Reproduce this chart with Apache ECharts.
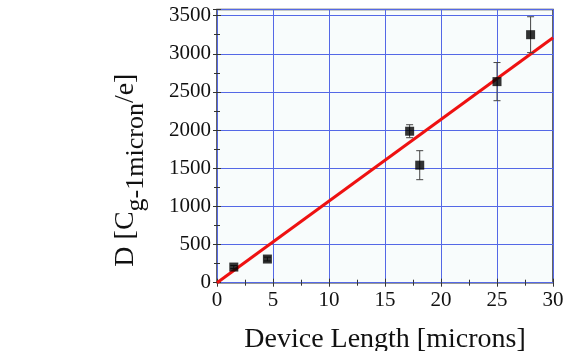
<!DOCTYPE html>
<html><head><meta charset="utf-8">
<script src="https://cdn.jsdelivr.net/npm/echarts@6/dist/echarts.min.js"></script>
<style>html,body{margin:0;padding:0;background:#fff}#c{width:565px;height:351px}</style>
</head><body><div id="c"></div>
<script>
var xVals = [1.5, 4.5, 17.2, 18.1, 25.0, 28.0];
var yVals = [205, 310, 1985, 1540, 2635, 3250];
var errVals = [20, 25, 85, 190, 250, 235];
var fitX = [0, 30];
var fitY = [0, 3210];
var xTicks = [0, 5, 10, 15, 20, 25, 30];
var yTicks = [0, 500, 1000, 1500, 2000, 2500, 3000, 3500];

var pts = xVals.map(function (x, i) { return [x, yVals[i]]; });
var errs = xVals.map(function (x, i) { return [x, yVals[i] - errVals[i], yVals[i] + errVals[i]]; });
var fit = fitX.map(function (x, i) { return [x, fitY[i]]; });

var font = 'Liberation Serif, Times New Roman, serif';
var chart = echarts.init(document.getElementById('c'));
var gridLine = { show: true, lineStyle: { color: '#5468e6', width: 1 } };
chart.setOption({
  animation: false,
  grid: { left: 217, right: 12, top: 9.5, bottom: 68.3, show: true, containLabel: false, outerBoundsMode: 'none',
    backgroundColor: '#f8fcfc', borderColor: '#333', borderWidth: 1.5 },
  xAxis: [{
    type: 'value', min: 0, max: 30, interval: 5,
    axisLine: { show: false },
    axisTick: { show: true, inside: true, length: 4, lineStyle: { color: '#333' } },
    minorTick: { show: true, splitNumber: 2, length: 3, lineStyle: { color: '#333' } },
    axisLabel: { color: '#111', fontFamily: font, fontSize: 21, margin: 7,
      formatter: function (v) { return xTicks.indexOf(v) >= 0 ? String(v) : ''; } },
    splitLine: gridLine,
    name: 'Device Length [microns]', nameLocation: 'middle', nameGap: 43,
    nameTextStyle: { color: '#111', fontFamily: font, fontSize: 28 }
  }, {
    type: 'value', min: 0, max: 30, interval: 5, position: 'top',
    axisLine: { show: false },
    axisTick: { show: true, inside: true, length: 4, lineStyle: { color: '#333' } },
    minorTick: { show: true, splitNumber: 2, length: 3, lineStyle: { color: '#333' } },
    axisLabel: { show: false }, splitLine: { show: false }
  }],
  yAxis: [{
    type: 'value', min: 0, max: 3580, interval: 500,
    axisLine: { show: false },
    axisTick: { show: true, inside: true, length: 4, lineStyle: { color: '#333' } },
    minorTick: { show: true, splitNumber: 2, length: 3, lineStyle: { color: '#333' } },
    axisLabel: { color: '#111', fontFamily: font, fontSize: 21, margin: 6, showMaxLabel: false,
      formatter: function (v) { return yTicks.indexOf(v) >= 0 ? String(v) : ''; } },
    splitLine: gridLine,
    name: '{n|D [C}{s|g-1micron}{n|/e]}', nameLocation: 'middle', nameGap: 76,
    nameTextStyle: { color: '#111', fontFamily: font, fontSize: 28, padding: [0, 48, 0, 0],
      rich: {
        n: { fontFamily: font, fontSize: 28, color: '#111', verticalAlign: 'top', lineHeight: 29 },
        s: { fontFamily: font, fontSize: 26, color: '#111', verticalAlign: 'top', lineHeight: 27, padding: [11, 0, 0, 0] }
      } }
  }, {
    type: 'value', min: 0, max: 3580, interval: 500, position: 'right',
    axisLine: { show: false },
    axisTick: { show: true, inside: true, length: 4, lineStyle: { color: '#333' } },
    minorTick: { show: true, splitNumber: 2, length: 3, lineStyle: { color: '#333' } },
    axisLabel: { show: false }, splitLine: { show: false }
  }],
  series: [{
    type: 'line', data: fit, symbol: 'none', z: 3,
    lineStyle: { color: '#ee1111', width: 3 }
  }, {
    type: 'custom', data: errs, z: 4,
    renderItem: function (params, api) {
      var x = api.value(0);
      var lo = api.coord([x, api.value(1)]);
      var hi = api.coord([x, api.value(2)]);
      var w = 3.5;
      var st = { stroke: '#444', lineWidth: 1 };
      return { type: 'group', children: [
        { type: 'line', shape: { x1: lo[0], y1: lo[1], x2: hi[0], y2: hi[1] }, style: st },
        { type: 'line', shape: { x1: lo[0] - w, y1: lo[1], x2: lo[0] + w, y2: lo[1] }, style: st },
        { type: 'line', shape: { x1: hi[0] - w, y1: hi[1], x2: hi[0] + w, y2: hi[1] }, style: st }
      ] };
    }
  }, {
    type: 'scatter', data: pts, symbol: 'rect', symbolSize: 9, z: 5,
    itemStyle: { color: '#000' }
  }]
});
</script></body></html>
